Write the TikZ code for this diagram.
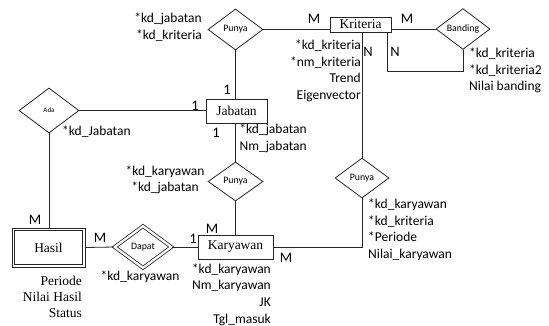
\documentclass[tikz,border=0pt]{standalone}
\usepackage{fontspec}
\usetikzlibrary{shapes.geometric,calc}
\newfontfamily\carl{Carlito}
\newfontfamily\lserif{Liberation Serif}
\newcommand\attrf{\carl\fontsize{13.5}{16.6}\selectfont}
\newcommand\entf{\lserif\fontsize{13.5}{16}\selectfont}
\newcommand\hasf{\lserif\fontsize{13.5}{16}\selectfont}
\newcommand\relf{\carl\fontsize{9.8}{11}\selectfont}
\newcommand\cardf{\carl\fontsize{14.5}{16}\selectfont}
\tikzset{
  ln/.style={line width=0.8pt, draw=black!85},
  ent/.style={draw=black!85, line width=0.8pt, font=\entf, inner sep=0pt},
  rel/.style={draw=black!85, diamond, line width=0.8pt, font=\relf, inner sep=0pt},
  attr/.style={font=\attrf, inner sep=0pt},
  card/.style={font=\cardf, inner sep=0pt},
}
\begin{document}
\begin{tikzpicture}[x=1pt,y=-1pt]
\useasboundingbox[fill=white] (0,0) rectangle (549,325);
% entities
\node[ent, minimum width=61, minimum height=15] (kri) at (360.5,24.5) {Kriteria};
\node[ent, minimum width=61, minimum height=24] (jab) at (236.5,111) {Jabatan};
\node[ent, minimum width=75, minimum height=24] (kar) at (235.5,247) {Karyawan};
\node[ent, minimum width=73, minimum height=39] (has) at (48.5,247.5) {Hasil};
\draw[ln] ($(has.north west)+(3.2,3.2)$) rectangle ($(has.south east)+(-3.2,-3.2)$);
% relations
\node[rel, minimum width=55, minimum height=41] (p1) at (235.5,29.5) {Punya};
\node[rel, minimum width=54, minimum height=40] (ban) at (463,29) {Banding};
\node[rel, minimum width=60, minimum height=45, font=\carl\fontsize{7}{8}\selectfont] (ada) at (49,110.5) {Ada};
\node[rel, minimum width=55, minimum height=39] (pm) at (235.5,181.5) {Punya};
\node[rel, minimum width=54, minimum height=40] (pr) at (362,178) {Punya};
\node[rel, double, double distance=2.2pt, minimum width=57, minimum height=42] (dap) at (143,247) {Dapat};
% connectors
\draw[ln] (p1.east) -- (p1.east -| kri.west);
\draw[ln] (ban.west -| kri.east) -- (ban.west);
\draw[ln] ([xshift=-4pt]kri.south east) -- ++(0,39) -| (ban.south);
\draw[ln] (pr.north) -- (pr.north |- kri.south);
\draw[ln] (pr.south) |- (kar.east);
\draw[ln] (p1.south) -- (p1.south |- jab.north);
\draw[ln] (ada.east) -- (ada.east -| jab.west);
\draw[ln] (pm.north) -- (pm.north |- jab.south);
\draw[ln] (pm.south) -- (pm.south |- kar.north);
\draw[ln] (ada.south) -- (ada.south |- has.north);
\draw[ln] (has.east) -- (dap.west);
\draw[ln] (dap.east) -- (kar.west);
% cardinalities
\node[card] (c1) at (314,19) {M};
\node[card] (c2) at (407,19) {M};
\node[card] (c3) at (368,52) {N};
\node[card] (c4) at (395,52) {N};
\node[card] (c5) at (227,90) {1};
\node[card] (c6) at (195,106) {1};
\node[card] (c7) at (216,133) {1};
\node[card] (c8) at (35,220) {M};
\node[card] (c9) at (100,238) {M};
\node[card] (c10) at (193,239) {1};
\node[card] (c11) at (212,229) {M};
\node[card] (c12) at (286,258) {M};
% attributes
\node[attr, anchor=north east, align=right] (a1) at (202,13) {*kd\_jabatan\\*kd\_kriteria};
\node[attr, anchor=north east, align=right] (a2) at (361,40) {*kd\_kriteria\\*nm\_kriteria\\Trend\\Eigenvector};
\node[attr, anchor=north west, align=left] (a3) at (469,48) {*kd\_kriteria\\*kd\_kriteria2\\Nilai banding};
\node[attr, anchor=north east, align=right] (a4) at (307,124) {*kd\_jabatan\\Nm\_jabatan};
\node[attr, anchor=north west, align=left] (a5) at (62,125.5) {*kd\_Jabatan};
\node[attr, anchor=north, align=center] (a6) at (165,165.5) {*kd\_karyawan\\*kd\_jabatan};
\node[attr, font=\hasf, anchor=north east, align=right] (a7) at (82,276) {Periode\\Nilai Hasil\\Status};
\node[attr, anchor=north] (a8) at (140,271) {*kd\_karyawan};
\node[attr, anchor=north east, align=right] (a9) at (271,263.5) {*kd\_karyawan\\Nm\_karyawan\\JK\\Tgl\_masuk};
\node[attr, anchor=north west, align=left] (a10) at (368,199) {*kd\_karyawan\\*kd\_kriteria\\*Periode\\Nilai\_karyawan};
\end{tikzpicture}
\end{document}
